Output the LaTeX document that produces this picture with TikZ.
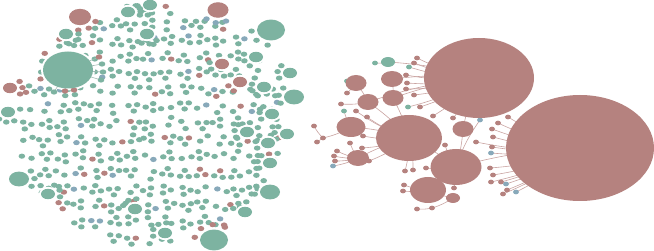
\documentclass[tikz,border=0pt]{standalone}
\definecolor{gr}{HTML}{7DB3A1}
\definecolor{rd}{HTML}{B5827F}
\definecolor{bl}{HTML}{88A9BA}
\definecolor{ed}{HTML}{C9A3A1}
\newcommand\medn[7]{%
  \fill[white] (#1,#2) ellipse [x radius=#3pt+2pt, y radius=#3pt/1.35+2pt];
  \fill[#4] (#1,#2) ellipse [x radius=#3pt, y radius=#3pt/1.35];
  \foreach \s in {1,...,#6}{
    \pgfmathsetmacro{\sa}{#5+(\s-1)*38}
    \fill[#7] ({#1+(#3+5.5)*cos(\sa)},{#2+(#3/1.35+5)*sin(\sa)}) ellipse [x radius=3.3pt, y radius=2.6pt];
  }}
\newcommand\hubdraw[4]{\fill[#4] (#1) ellipse [x radius=#2pt, y radius=#3pt];}
\begin{document}
\begin{tikzpicture}[x=1pt,y=-1pt]
\useasboundingbox (0,0) rectangle (654,251);
\tikzset{edge/.style={draw=ed, line width=0.6pt}, sdot/.style={x radius=3.3pt, y radius=2.6pt}}
% ---------- left cluster: grid of small groups ----------
\pgfmathsetseed{12}
\foreach \gx in {0,...,16}{
 \foreach \gy in {0,...,14}{
  \pgfmathsetmacro{\cx}{10+\gx*17.5+rand*2.5}
  \pgfmathsetmacro{\cy}{8+\gy*16.5+rand*2.5}
  \pgfmathtruncatemacro{\inside}{(((\cx-150)/134)^2+((\cy-124)/118)^2)<1 ? 1 : 0}
  \ifnum\inside=1
   \pgfmathsetmacro{\ang}{rnd*360}
   \pgfmathtruncatemacro{\nd}{rnd<0.3 ? 2 : 3}
   \foreach \k in {1,...,\nd}{
     \pgfmathsetmacro{\px}{\cx+5*cos(\ang+\k*360/\nd)}
     \pgfmathsetmacro{\py}{\cy+4*sin(\ang+\k*360/\nd)}
     \pgfmathsetmacro{\rr}{rnd}
     \pgfmathtruncatemacro{\col}{\rr<0.88 ? 0 : (\rr<0.96 ? 1 : 2)}
     \ifcase\col \def\cc{gr}\or \def\cc{rd}\else \def\cc{bl}\fi
     \fill[\cc] (\px,\py) ellipse [sdot];
   }
  \fi
 }}
% ---------- left cluster: medium nodes ----------
\medn{80}{17}{11}{rd}{20}{3}{rd}
\medn{218}{10}{10.5}{rd}{60}{3}{bl}
\medn{271}{30}{14}{gr}{100}{3}{gr}
\medn{19}{179}{10}{gr}{-40}{3}{gr}
\medn{214}{240}{14}{gr}{190}{4}{rd}
\medn{294}{97}{10}{gr}{150}{3}{gr}
\medn{270}{192}{10}{gr}{170}{3}{gr}
\medn{150}{5}{7}{gr}{100}{3}{gr}
\medn{128}{12}{7}{gr}{-20}{2}{gr}
\medn{66}{34}{7}{gr}{0}{3}{gr}
\medn{147}{34}{7}{gr}{40}{3}{gr}
\medn{10}{88}{7}{rd}{-40}{3}{rd}
\medn{8}{112}{7}{gr}{60}{3}{gr}
\medn{256}{57}{7}{gr}{120}{3}{gr}
\medn{222}{64}{7}{rd}{150}{2}{gr}
\medn{240}{82}{7}{rd}{120}{2}{rd}
\medn{264}{87}{7}{gr}{120}{3}{gr}
\medn{272}{114}{7}{gr}{150}{3}{gr}
\medn{287}{134}{7}{gr}{150}{3}{gr}
\medn{268}{143}{7}{gr}{150}{3}{gr}
\medn{270}{163}{7}{gr}{150}{3}{gr}
\medn{247}{132}{7}{gr}{150}{3}{gr}
\medn{245}{212}{7}{gr}{200}{3}{gr}
\medn{135}{209}{7}{gr}{200}{3}{gr}
\medn{165}{233}{7}{gr}{200}{3}{gr}
\medn{48}{194}{7}{gr}{-60}{3}{gr}
\medn{290}{73}{7}{gr}{150}{3}{gr}
% big green node with satellites
\coordinate (BG) at (68,70);
\fill[white] (BG) ellipse [x radius=27pt, y radius=20.5pt];
\foreach \x/\y/\c in {99/57/rd, 102/64/gr, 103/72/gr, 101/80/gr, 65/91/rd, 74/90/rd, 54/92/gr}{
  \draw[edge, draw=gr!80!black!60] (BG) -- (\x,\y);
  \fill[\c] (\x,\y) ellipse [sdot];}
\fill[gr] (BG) ellipse [x radius=25pt, y radius=18.5pt];
% ---------- right cluster ----------
\coordinate (A) at (479,78);
\coordinate (B) at (580,148);
\coordinate (C) at (409,138);
\coordinate (D) at (456,167);
\coordinate (E) at (428,190);
\coordinate (F) at (351,127);
\coordinate (G) at (358,158);
\coordinate (H) at (463,129);
\coordinate (I) at (368,102);
\coordinate (J) at (356,83);
\coordinate (K) at (392,79);
\coordinate (L) at (393,98);
\coordinate (M) at (453,198);
\coordinate (N) at (388,62);
\coordinate (Q) at (323,138);
\coordinate (R) at (432,208);
\def\rdots{417/58/rd/A, 414/63/rd/A, 409/67/gr/A, 375/63/gr/N, 406/75/rd/A, 407/83/rd/A, 406/89/rd/A, 414/95/rd/A, 347/81/gr/J, 347/93/rd/J, 341/104/rd/I, 344/111/gr/F, 356/111/rd/C, 367/117/rd/C, 408/107/gr/A, 420/107/rd/A, 433/116/rd/A, 453/118/rd/A, 480/120/bl/D, 314/126/rd/Q, 317/142/rd/Q, 323/138/rd/F, 363/136/rd/C, 350/143/rd/G, 362/148/rd/C, 337/151/rd/G, 334/156/rd/G, 335/161/rd/G, 333/166/bl/G, 369/161/rd/C, 445/145/rd/D, 476/142/rd/B, 492/129/rd/B, 498/123/rd/B, 508/117/rd/B, 493/137/rd/B, 492/147/rd/B, 491/153/bl/B, 490/168/rd/B, 493/175/rd/B, 491/182/rd/B, 501/182/rd/B, 506/184/bl/B, 507/190/rd/B, 503/194/rd/B, 516/192/bl/B, 426/168/rd/D, 413/170/rd/C, 405/171/rd/C, 404/185/rd/E, 403/191/rd/E, 454/188/rd/D, 432/208/rd/M, 417/209/rd/R}
\foreach \x/\y/\c/\h in \rdots{\draw[edge] (\x,\y) to[bend right=8] (\h);}
\foreach \a/\b in {F/C, G/C, I/C, J/I, K/L, L/C, C/D, D/B, H/D, E/D, M/E, N/A, K/A, L/A, H/A, I/A}{\draw[edge] (\a) to[bend left=6] (\b);}
\foreach \x/\y/\c/\h in \rdots{\fill[\c] (\x,\y) ellipse [x radius=3pt, y radius=2.4pt];}
\hubdraw{A}{55}{40}{rd}
\hubdraw{B}{74}{53}{rd}
\hubdraw{C}{33}{23}{rd}
\hubdraw{D}{25.5}{18}{rd}
\hubdraw{E}{18}{13}{rd}
\hubdraw{F}{14.5}{10}{rd}
\hubdraw{G}{11}{8}{rd}
\hubdraw{H}{10.5}{8}{rd}
\hubdraw{I}{10.5}{8}{rd}
\hubdraw{J}{10.5}{8}{rd}
\hubdraw{K}{11}{8}{rd}
\hubdraw{L}{10.5}{8}{rd}
\hubdraw{M}{7}{5}{rd}
\hubdraw{N}{7}{5}{gr}
\end{tikzpicture}
\end{document}
